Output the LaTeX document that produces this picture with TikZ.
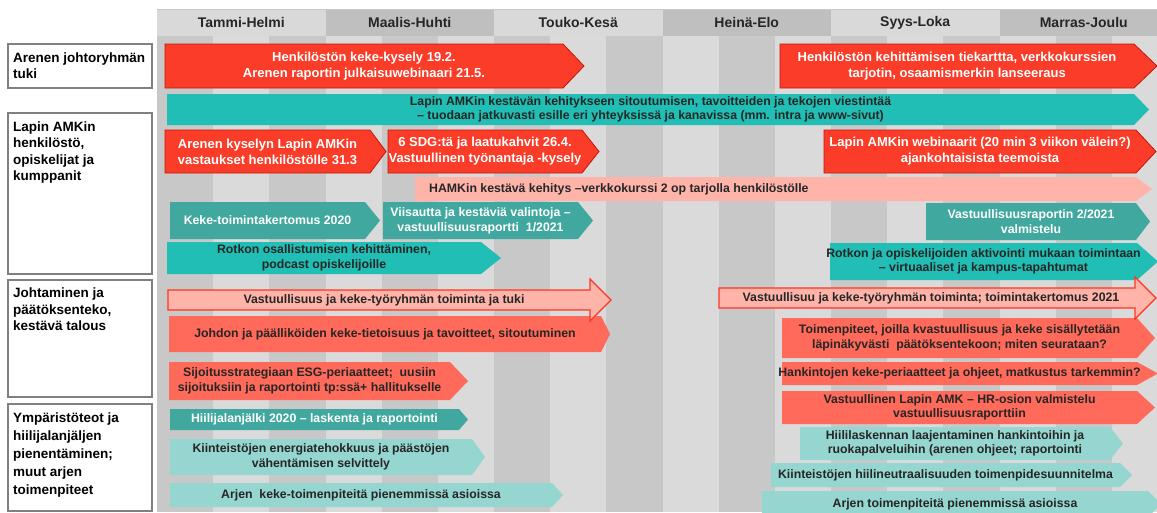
\documentclass[tikz,border=0pt]{standalone}
\usepackage{fontspec}
\setmainfont{Liberation Sans}
\usetikzlibrary{calc,math}

\definecolor{kekered}{HTML}{FA3C28}
\definecolor{kekeredline}{HTML}{C8150A}
\definecolor{keketeal}{HTML}{20BEB4}
\definecolor{kekedarkteal}{HTML}{40A89E}
\definecolor{kekelightteal}{HTML}{96D6D0}
\definecolor{kekesalmon}{HTML}{FF6A5A}
\definecolor{kekepink}{HTML}{FFB4AA}
\definecolor{kekeblockline}{HTML}{FF3422}
\definecolor{kekeink}{HTML}{262626}
\definecolor{stripedark}{HTML}{C8C8C8}
\definecolor{stripelight}{HTML}{DADADA}
\definecolor{headdark}{HTML}{BFBFBF}
\definecolor{headlight}{HTML}{D9D9D9}
\definecolor{boxline}{HTML}{808080}

% name, bar style, text style, left x, body end, tip x, top y, bottom y, text
\newcommand{\kekebar}[9]{%
  \path[#2] (#4,#7) -- (#5,#7) -- (#6,{(#7+#8)/2}) -- (#5,#8) -- (#4,#8) -- cycle;
  \node[#3] (#1) at ({(#4+#5)/2},{(#7+#8)/2}) {#9};
}

\begin{document}
\begin{tikzpicture}[x=1pt,y=-1pt,
    redbar/.style={fill=kekered,draw=kekeredline,line width=0.8pt},
    tealbar/.style={fill=keketeal},
    darktealbar/.style={fill=kekedarkteal},
    lighttealbar/.style={fill=kekelightteal},
    salmonbar/.style={fill=kekesalmon},
    pinkbar/.style={fill=kekepink},
    blockbar/.style={fill=kekepink,draw=kekeblockline,line width=1.1pt},
    redtext/.style={inner sep=0pt,align=center,text=white,font=\fontsize{13}{16}\selectfont\bfseries},
    whitetext/.style={inner sep=0pt,align=center,text=white,font=\fontsize{12.3}{15}\selectfont\bfseries},
    inktext/.style={inner sep=0pt,align=center,text=kekeink,font=\fontsize{12.3}{14.5}\selectfont\bfseries},
    headtext/.style={inner sep=0pt,text=kekeink,font=\fontsize{14}{16}\selectfont\bfseries},
    sidebox/.style={draw=boxline,line width=1.3pt,fill=white},
    sidetext/.style={inner sep=0pt,anchor=north west,align=left,text=black,font=\fontsize{13.5}{16.5}\selectfont\bfseries}]
  \useasboundingbox (0,0) rectangle (1157,512);

  % timeline stripes
  \fill[stripelight] (157,36) rectangle (1157,512);
  \foreach \i in {0,2,...,16}
    \fill[stripedark] ({157+56.17*\i},36) rectangle ++(56.17,476);

  % header
  \fill[headlight] (157,9) rectangle (1157,36);
  \foreach \i in {1,3,5}
    \fill[headdark] ({157+168.5*\i},9) rectangle ++(168.5,27);
  \draw[stripedark,line width=0.8pt] (157,9) -- (1157,9);
  \foreach \month [count=\i from 0] in {Tammi-Helmi,Maalis-Huhti,Touko-Kesä,Heinä-Elo,Syys-Loka,Marras-Joulu}
    \node[headtext] (month\i) at ({157+168.5*(\i+0.5)},22.5) {\month};

  % row labels
  \draw[sidebox] (8,44) rectangle (152,88);
  \node[sidetext] (johtoryhma) at (13,52.5) {Arenen johtoryhmän\\tuki};
  \draw[sidebox] (8,113) rectangle (152,274);
  \node[sidetext] (henkilosto) at (13,121.5) {Lapin AMKin\\henkilöstö,\\opiskelijat ja\\kumppanit};
  \draw[sidebox] (8,280) rectangle (152,397);
  \node[sidetext] (paatoksenteko) at (13,288) {Johtaminen ja\\päätöksenteko,\\kestävä talous};
  \draw[sidebox] (8,404) rectangle (152,511);
  \node[sidetext,font=\fontsize{13.5}{18}\selectfont\bfseries] (ymparisto) at (13,412.5) {Ympäristöteot ja\\hiilijalanjäljen\\pienentäminen;\\muut arjen\\toimenpiteet};

  % johtoryhma
  \kekebar{kysely}{redbar}{redtext}{165}{563}{584}{44}{88}{Henkilöstön keke-kysely 19.2.\\Arenen raportin julkaisuwebinaari 21.5.}
  \kekebar{tiekartta}{redbar}{redtext}{780}{1134}{1157}{44}{88}{Henkilöstön kehittämisen tiekarttta, verkkokurssien\\tarjotin, osaamismerkin lanseeraus}

  % henkilosto, opiskelijat, kumppanit
  \kekebar{viestinta}{tealbar}{inktext}{167}{1134}{1149}{94}{125}{Lapin AMKin kestävän kehitykseen sitoutumisen, tavoitteiden ja tekojen viestintää\\– tuodaan jatkuvasti esille eri yhteyksissä ja kanavissa (mm. intra ja www-sivut)}
  \kekebar{vastaukset}{redbar}{redtext}{165}{370}{386}{130}{173}{Arenen kyselyn Lapin AMKin\\vastaukset henkilöstölle 31.3}
  \kekebar{laatukahvit}{redbar}{redtext}{388}{582}{599}{130}{173}{6 SDG:tä ja laatukahvit 26.4.\\Vastuullinen työnantaja -kysely}
  \kekebar{webinaarit}{redbar}{redtext}{824}{1136}{1156}{130}{173}{Lapin AMKin webinaarit (20 min 3 viikon välein?)\\ajankohtaisista teemoista}
  \path[pinkbar] (415,177) -- (1136,177) -- (1152,189) -- (1136,201) -- (415,201) -- cycle;
  \node[inktext,anchor=west] (verkkokurssi) at (429,189) {HAMKin kestävä kehitys –verkkokurssi 2 op tarjolla henkilöstölle};
  \kekebar{toimintakertomus}{darktealbar}{whitetext}{170}{365}{380}{202}{239}{Keke-toimintakertomus 2020}
  \kekebar{viisautta}{darktealbar}{whitetext}{383}{578}{593}{202}{239}{Viisautta ja kestäviä valintoja –\\vastuullisuusraportti\ \ 1/2021}
  \kekebar{raportti}{darktealbar}{whitetext}{926}{1136}{1150}{203}{240}{Vastuullisuusraportin 2/2021\\valmistelu}
  \kekebar{podcast}{tealbar}{inktext}{167}{481}{501}{242}{274}{Rotkon osallistumisen kehittäminen,\\podcast opiskelijoille}
  \kekebar{aktivointi}{tealbar}{inktext}{830}{1137}{1158}{243}{280}{Rotkon ja opiskelijoiden aktivointi mukaan toimintaan\\– virtuaaliset ja kampus-tapahtumat}

  % johtaminen ja paatoksenteko
  \kekebar{tietoisuus}{salmonbar}{inktext}{169}{601}{610}{316}{352}{Johdon ja päälliköiden keke-tietoisuus ja tavoitteet, sitoutuminen}
  \kekebar{toimenpiteet}{salmonbar}{inktext}{782}{1137}{1155}{318}{358}{Toimenpiteet, joilla kvastuullisuus ja keke sisällytetään\\läpinäkyvästi\ \ päätöksentekoon; miten seurataan?}
  \path[blockbar] (168,290) -- (590,290) -- (590,279) -- (611,300) -- (590,321) -- (590,310) -- (168,310) -- cycle;
  \node[inktext] (tyoryhma) at (384,300) {Vastuullisuus ja keke-työryhmän toiminta ja tuki};
  \path[blockbar] (719,288) -- (1135,288) -- (1135,277) -- (1156,298) -- (1135,319) -- (1135,308) -- (719,308) -- cycle;
  \node[inktext] (tyoryhmakertomus) at (931,298) {Vastuullisuu ja keke-työryhmän toiminta; toimintakertomus 2021};
  \kekebar{sijoitus}{salmonbar}{inktext}{169}{450}{468}{362}{400}{Sijoitusstrategiaan ESG-periaatteet;\ \ uusiin\\sijoituksiin ja raportointi tp:ssä+ hallitukselle}
  \kekebar{hankinnat}{salmonbar}{inktext}{782}{1137}{1158}{362}{385}{Hankintojen keke-periaatteet ja ohjeet, matkustus tarkemmin?}
  \kekebar{hrosio}{salmonbar}{inktext}{782}{1137}{1155}{391}{424}{Vastuullinen Lapin AMK – HR-osion valmistelu\\vastuullisuusraporttiin}

  % ymparistoteot ja hiilijalanjalki
  \kekebar{hiilijalanjalki}{darktealbar}{whitetext}{170}{459}{468}{409}{430}{Hiilijalanjälki 2020 – laskenta ja raportointi}
  \kekebar{energia}{lighttealbar}{inktext}{170}{472}{485}{439}{475}{Kiinteistöjen energiatehokkuus ja päästöjen\\vähentämisen selvittely}
  \kekebar{hiililaskenta}{lighttealbar}{inktext}{800}{1110}{1123}{427}{460}{Hiililaskennan laajentaminen hankintoihin ja\\ruokapalveluihin (arenen ohjeet; raportointi}
  \kekebar{hiilineutraali}{lighttealbar}{inktext}{771}{1120}{1132}{463}{487}{Kiinteistöjen hiilineutraalisuuden toimenpidesuunnitelma}
  \kekebar{arkikeke}{lighttealbar}{inktext}{170}{552}{563}{483}{507}{Arjen\ \ keke-toimenpiteitä pienemmissä asioissa}
  \kekebar{arki}{lighttealbar}{inktext}{762}{1148}{1161}{491}{517}{Arjen toimenpiteitä pienemmissä asioissa}
\end{tikzpicture}
\end{document}
